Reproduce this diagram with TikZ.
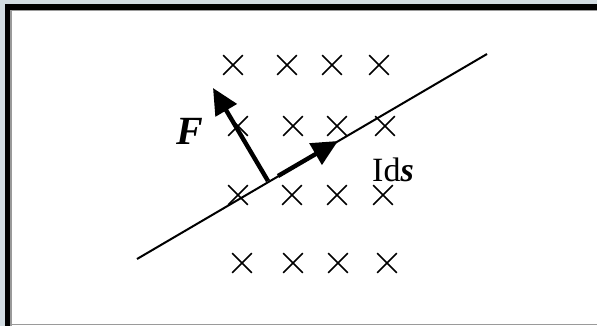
\documentclass[tikz,border=0pt]{standalone}
\usepackage{fontspec}
\setmainfont{Liberation Serif}
\usetikzlibrary{shapes.misc,arrows.meta}
\definecolor{bgblue}{HTML}{D2DCE2}
\definecolor{rimgray}{HTML}{9A9A9A}

\begin{document}
\begin{tikzpicture}[x=0.5pt,y=-0.5pt]
  \tikzstyle{cross}=[cross out,draw,line width=0.85pt,minimum size=9pt,inner sep=0pt]
  \tikzstyle{vec}=[line width=2.2pt,-{Triangle[length=13pt,width=12pt]}]
  \useasboundingbox (0,0) rectangle (597,326);
  % frame
  \fill[bgblue] (0,0) rectangle (597,326);
  \fill[black] (5,4) rectangle (600,326);
  \fill[white] (11,10.5) rectangle (600,326);
  \draw[rimgray,line width=0.6pt] (11,326) -- (11,10.5) -- (600,10.5);
  \draw[rimgray,line width=0.6pt] (11,324.5) -- (600,324.5);
  % field into the page
  \node[cross] (X_1_1) at (233,65) {};
  \node[cross] (X_1_2) at (287,65) {};
  \node[cross] (X_1_3) at (332,65) {};
  \node[cross] (X_1_4) at (379,65) {};
  \node[cross] (X_2_1) at (238,126) {};
  \node[cross] (X_2_2) at (293,126) {};
  \node[cross] (X_2_3) at (337,126) {};
  \node[cross] (X_2_4) at (385,126) {};
  \node[cross] (X_3_1) at (238,195) {};
  \node[cross] (X_3_2) at (292,195) {};
  \node[cross] (X_3_3) at (337,195) {};
  \node[cross] (X_3_4) at (383,195) {};
  \node[cross] (X_4_1) at (242,263) {};
  \node[cross] (X_4_2) at (293,263) {};
  \node[cross] (X_4_3) at (338,263) {};
  \node[cross] (X_4_4) at (387,263) {};
  % wire
  \coordinate (W_a) at (137,259);
  \coordinate (W_b) at (487,54);
  \draw[line width=1pt] (W_a) -- (W_b);
  % current element and force
  \coordinate (I_a) at (278,176);
  \coordinate (I_b) at (338,141);
  \coordinate (F_a) at (268,181);
  \coordinate (F_b) at (213,88);
  \draw[vec] (I_a) -- (I_b);
  \draw[vec] (F_a) -- (F_b);
  \node[font=\fontsize{20}{22}\selectfont\bfseries\itshape] (lbl_F) at (190,131) {F};
  \node[font=\fontsize{17}{19}\selectfont] (lbl_Ids) at (393,170) {Id\textbf{\textit{s}}};
\end{tikzpicture}
\end{document}
